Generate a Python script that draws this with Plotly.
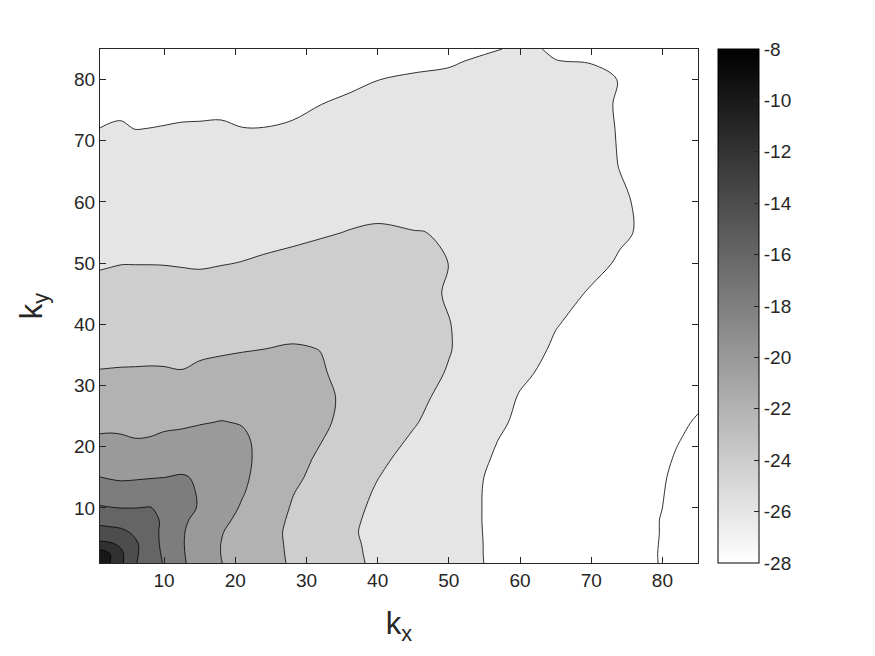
import plotly.graph_objects as go

# grid positions (kx, ky) and the field
kx = [1, 2.5, 4, 6, 8, 10, 12.5, 15, 18, 21, 24, 28, 32, 36, 40, 45, 50, 55, 60, 65, 70, 74, 78, 82, 85]
ky = [1, 2.5, 4, 6, 8, 10, 12.5, 15, 18, 21, 24, 28, 32, 36, 40, 45, 50, 55, 60, 66, 72, 76, 80, 83, 85]

z = [
    [-8.4, -10.05, -11.67, -13.89, -15.03, -16.13, -17.74, -18.81, -19.96, -20.65, -21.33, -22.19, -22.93, -23.67, -24.26, -24.84, -25.43, -26.01, -26.41, -26.8, -27.2, -27.52, -27.84, -28.3, -28.6],
    [-8.7, -10.1, -11.68, -13.74, -15.06, -16.28, -17.82, -18.85, -20.02, -20.69, -21.37, -22.23, -22.98, -23.72, -24.29, -24.87, -25.45, -26.02, -26.41, -26.81, -27.21, -27.53, -27.85, -28.3, -28.6],
    [-11.5, -11.7, -12.29, -13.71, -15.12, -16.43, -17.86, -18.87, -20.02, -20.71, -21.4, -22.26, -23.01, -23.76, -24.31, -24.89, -25.46, -26.02, -26.42, -26.82, -27.22, -27.54, -27.86, -28.25, -28.55],
    [-13.2, -13.36, -13.6, -14.31, -15.33, -16.4, -17.83, -18.81, -19.91, -20.67, -21.41, -22.3, -23.07, -23.83, -24.35, -24.92, -25.48, -26.03, -26.43, -26.83, -27.23, -27.55, -27.87, -28.2, -28.5],
    [-14.61, -14.75, -14.82, -15.11, -15.39, -16.32, -17.63, -18.59, -19.58, -20.46, -21.26, -22.23, -22.99, -23.76, -24.32, -24.9, -25.48, -26.04, -26.44, -26.84, -27.24, -27.56, -27.87, -28.2, -28.5],
    [-15.82, -15.94, -16.01, -16.01, -15.93, -16.36, -17.26, -18.17, -19.2, -20.19, -21.03, -22.11, -22.88, -23.65, -24.26, -24.86, -25.46, -26.04, -26.43, -26.83, -27.22, -27.53, -27.85, -28.15, -28.45],
    [-16.94, -17.09, -17.22, -17.16, -17.02, -17.12, -17.42, -18.17, -19.03, -19.89, -20.76, -21.93, -22.71, -23.46, -24.15, -24.79, -25.43, -26.04, -26.43, -26.82, -27.21, -27.52, -27.84, -28.12, -28.4],
    [-17.98, -18.14, -18.23, -18.17, -18.09, -18.01, -17.87, -18.18, -18.96, -19.73, -20.54, -21.65, -22.5, -23.24, -23.97, -24.66, -25.34, -26.01, -26.4, -26.79, -27.18, -27.49, -27.81, -28.1, -28.3],
    [-18.88, -18.95, -18.99, -19.03, -19.0, -18.83, -18.69, -18.67, -19.05, -19.67, -20.4, -21.38, -22.27, -22.98, -23.7, -24.48, -25.2, -25.93, -26.35, -26.73, -27.12, -27.42, -27.73, -28.05, -28.25],
    [-19.76, -19.73, -19.79, -19.93, -19.88, -19.67, -19.53, -19.41, -19.43, -19.77, -20.37, -21.16, -21.95, -22.65, -23.35, -24.2, -25.01, -25.82, -26.3, -26.68, -27.06, -27.36, -27.67, -27.97, -28.15],
    [-20.41, -20.38, -20.4, -20.48, -20.45, -20.34, -20.27, -20.1, -19.95, -20.07, -20.38, -21.05, -21.74, -22.41, -23.06, -23.87, -24.73, -25.59, -26.2, -26.57, -26.95, -27.25, -27.55, -27.84, -28.08],
    [-21.16, -21.13, -21.14, -21.17, -21.15, -21.09, -21.09, -20.88, -20.74, -20.75, -20.88, -21.11, -21.68, -22.29, -22.88, -23.61, -24.41, -25.29, -26.08, -26.5, -26.85, -27.1, -27.3, -27.7, -27.85],
    [-21.91, -21.89, -21.87, -21.86, -21.84, -21.85, -21.92, -21.67, -21.51, -21.44, -21.43, -21.4, -21.88, -22.38, -22.86, -23.46, -24.09, -24.95, -25.81, -26.3, -26.65, -26.9, -27.1, -27.3, -27.45],
    [-22.44, -22.41, -22.39, -22.38, -22.37, -22.39, -22.43, -22.31, -22.2, -22.09, -22.01, -21.89, -22.02, -22.43, -22.86, -23.39, -23.93, -24.7, -25.5, -26.15, -26.5, -26.75, -26.95, -27.15, -27.3],
    [-22.94, -22.9, -22.86, -22.85, -22.85, -22.86, -22.91, -22.85, -22.74, -22.63, -22.53, -22.43, -22.39, -22.54, -22.9, -23.41, -23.96, -24.61, -25.28, -25.95, -26.35, -26.6, -26.8, -27.0, -27.1],
    [-23.56, -23.5, -23.45, -23.44, -23.45, -23.46, -23.51, -23.52, -23.42, -23.3, -23.2, -23.06, -22.97, -22.95, -23.08, -23.56, -24.11, -24.61, -25.12, -25.63, -26.1, -26.35, -26.55, -26.75, -26.85],
    [-24.13, -24.08, -24.03, -24.03, -24.03, -24.04, -24.08, -24.12, -24.05, -23.97, -23.85, -23.71, -23.56, -23.44, -23.41, -23.53, -24.01, -24.44, -24.88, -25.31, -25.74, -26.1, -26.35, -26.55, -26.65],
    [-24.55, -24.49, -24.45, -24.49, -24.48, -24.48, -24.49, -24.52, -24.46, -24.43, -24.37, -24.25, -24.11, -23.96, -23.87, -23.97, -24.05, -24.38, -24.77, -25.16, -25.55, -25.87, -26.15, -26.4, -26.5],
    [-24.98, -24.91, -24.87, -24.94, -24.93, -24.91, -24.91, -24.92, -24.87, -24.88, -24.84, -24.73, -24.54, -24.4, -24.31, -24.36, -24.41, -24.54, -24.84, -25.2, -25.58, -25.9, -26.15, -26.35, -26.45],
    [-25.49, -25.41, -25.37, -25.48, -25.46, -25.43, -25.4, -25.4, -25.37, -25.41, -25.41, -25.29, -25.07, -24.91, -24.81, -24.82, -24.84, -24.83, -25.04, -25.34, -25.69, -26.02, -26.25, -26.4, -26.5],
    [-25.99, -25.91, -25.88, -26.02, -25.99, -25.95, -25.9, -25.89, -25.87, -25.98, -25.98, -25.88, -25.7, -25.48, -25.32, -25.29, -25.27, -25.18, -25.19, -25.43, -25.75, -26.05, -26.2, -26.35, -26.45],
    [-26.4, -26.29, -26.26, -26.42, -26.4, -26.34, -26.28, -26.26, -26.24, -26.37, -26.38, -26.24, -26.01, -25.83, -25.66, -25.6, -25.57, -25.46, -25.45, -25.57, -25.81, -26.06, -26.2, -26.35, -26.45],
    [-26.8, -26.69, -26.66, -26.82, -26.8, -26.74, -26.68, -26.66, -26.64, -26.77, -26.78, -26.64, -26.4, -26.21, -26.01, -25.9, -25.83, -25.66, -25.64, -25.8, -25.82, -26.02, -26.25, -26.4, -26.5],
    [-27.1, -26.99, -26.95, -27.12, -27.1, -27.04, -26.98, -26.96, -26.94, -27.07, -27.08, -26.94, -26.7, -26.51, -26.29, -26.18, -26.09, -25.88, -25.82, -25.99, -26.03, -26.08, -26.3, -26.45, -26.55],
    [-27.3, -27.19, -27.16, -27.32, -27.3, -27.24, -27.18, -27.16, -27.14, -27.27, -27.28, -27.14, -26.9, -26.71, -26.49, -26.38, -26.29, -26.1, -25.9, -26.06, -26.23, -26.25, -26.35, -26.5, -26.6],
]

cbar_ticks = [-28, -26, -24, -22, -20, -18, -16, -14, -12, -10, -8]
cbar_labels = ["-28", "-26", "-24", "-22", "-20", "-18", "-16", "-14", "-12", "-10", "-8"]
axis_ticks = [10, 20, 30, 40, 50, 60, 70, 80]

# grey of each filled band: below -28, then -28..-26, ..., above -10
band_grey = [255, 255, 229, 206, 178, 154, 125, 101, 77, 49, 24]

n = len(band_grey) - 1
fill_scale = []
for k, g in enumerate(band_grey):
    c = f"rgb({g},{g},{g})"
    lo = max(0.0, (k - 0.5) / n)
    hi = min(1.0, (k + 0.5) / n)
    fill_scale.append([lo, c])
    fill_scale.append([hi, c])

font = "Liberation Sans, Arial, sans-serif"
ink = "rgb(38,38,38)"

fig = go.Figure()

fig.add_trace(go.Contour(
    x=kx, y=ky, z=z,
    contours=dict(start=-28, end=-10, size=2, coloring="fill"),
    colorscale=fill_scale,
    line=dict(color="black", width=0.8, smoothing=1),
    showscale=False,
    hoverinfo="skip",
))

# continuous grey colorbar like MATLAB's
fig.add_trace(go.Scatter(
    x=[None], y=[None], mode="markers", showlegend=False, hoverinfo="skip",
    marker=dict(
        color=[-28], cmin=-28, cmax=-8,
        colorscale=[[0, "white"], [1, "black"]],
        showscale=True,
        colorbar=dict(
            x=1.0334, xanchor="left", xref="paper", xpad=0, ypad=0,
            y=0.5, yanchor="middle", len=1.0, lenmode="fraction",
            thickness=41, thicknessmode="pixels",
            outlinecolor="black", outlinewidth=1,
            tickvals=cbar_ticks, ticktext=cbar_labels,
            ticks="inside", ticklen=5, tickcolor=ink,
            tickfont=dict(family=font, size=19, color=ink),
        ),
    ),
))

axis_common = dict(
    tickvals=axis_ticks,
    ticks="inside", ticklen=6, tickcolor=ink,
    showline=True, linecolor=ink, linewidth=1, mirror="ticks",
    showgrid=False, zeroline=False, automargin=False,
    tickfont=dict(family=font, size=19, color=ink),
)

fig.update_xaxes(range=[1, 85], **axis_common,
                 title=dict(text="k<sub>x</sub>", font=dict(family=font, size=31, color=ink), standoff=22))
fig.update_yaxes(range=[1, 85], **axis_common,
                 title=dict(text="k<sub>y</sub>", font=dict(family=font, size=31, color=ink), standoff=22))

# the page body adds an 8 px offset, so the figure is 8 px smaller and shifted margins
fig.update_layout(
    width=867, height=648,
    margin=dict(l=92, r=177, t=41, b=93),
    paper_bgcolor="white", plot_bgcolor="white",
    showlegend=False,
)

fig.write_html("out.html")
